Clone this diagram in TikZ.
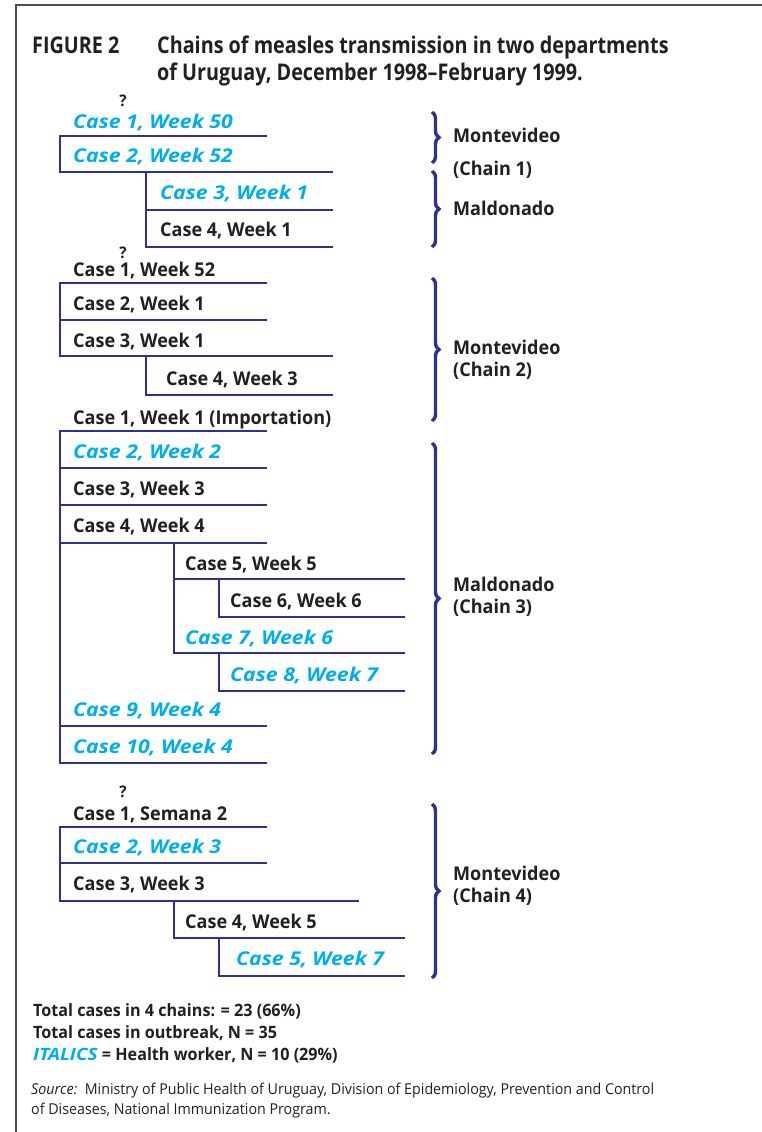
\documentclass[tikz,border=0pt]{standalone}
\usepackage{fontspec}
\setmainfont{Open Sans}[FakeStretch=0.95]
\newfontfamily\titlefont{Open Sans}[FakeStretch=0.86,Ligatures=TeX]
\newfontfamily\hwfont{Open Sans}[FakeStretch=1.12,Ligatures=TeX]
\usepackage{tikz}
\usetikzlibrary{decorations.pathreplacing}

\definecolor{navy}{HTML}{2E3192}
\definecolor{hwblue}{HTML}{00AEEF}
\definecolor{ink}{HTML}{231F20}

\begin{document}
\begin{tikzpicture}[x=1pt,y=-1pt,
    tree/.style={draw=navy,line width=2pt,line cap=rect},
    case/.style={anchor=base west,inner sep=0pt,text=ink,font=\fontsize{19}{22}\selectfont\bfseries},
    hw/.style={case,text=hwblue,font=\hwfont\fontsize{19}{22}\selectfont\bfseries\itshape},
    place/.style={anchor=base west,inner sep=0pt,text=ink,align=left,font=\fontsize{19}{22}\selectfont\bfseries},
    chainbrace/.style={draw=navy,line width=3.4pt,decorate,decoration={brace,amplitude=7pt}},
    unknown/.style={anchor=base,inner sep=0pt,text=ink,font=\fontsize{16}{18}\selectfont\bfseries}]
        \useasboundingbox (0,0) rectangle (762,1132);
        % frame
        \draw[ink!80,line width=1.5pt] (762,5) -- (16,5) -- (16,1132);
        % title (base of a multi-line node sits on its last line)
        \node[anchor=base west,inner sep=0pt,text=ink,font=\titlefont\fontsize{23}{28}\selectfont\bfseries] (fig) at (32,53) {FIGURE 2};
        \node[anchor=base west,inner sep=0pt,text=ink,align=left,font=\titlefont\fontsize{23}{28}\selectfont\bfseries] (title) at (157,81)
            {Chains of measles transmission in two departments\\of Uruguay, December 1998--February 1999.};

        % chain 1
        \node[unknown] (q1) at (123,106) {?};
        \node[hw] (c1a) at (73,128) {Case 1, Week 50};
        \node[hw] (c1b) at (73,162) {Case 2, Week 52};
        \node[hw] (c1c) at (160,199) {Case 3, Week 1};
        \node[case] (c1d) at (160,236) {Case 4, Week 1};
        \draw[tree] (266,136) -- (60,136) -- (60,172) -- (332,172);
        \draw[tree] (146,172) -- (146,247) -- (332,247);
        \draw[tree] (146,210) -- (332,210);

        % chain 2
        \node[unknown] (q2) at (123,258) {?};
        \node[case] (c2a) at (73,276) {Case 1, Week 52};
        \node[case] (c2b) at (73,310) {Case 2, Week 1};
        \node[case] (c2c) at (73,347) {Case 3, Week 1};
        \node[case] (c2d) at (166,385) {Case 4, Week 3};
        \draw[tree] (266,283) -- (60,283) -- (60,356) -- (332,356);
        \draw[tree] (60,320) -- (266,320);
        \draw[tree] (146,356) -- (146,395) -- (332,395);

        % chain 3
        \node[case] (c3a) at (73,424) {Case 1, Week 1 (Importation)};
        \node[hw] (c3b) at (73,458) {Case 2, Week 2};
        \node[case] (c3c) at (73,495) {Case 3, Week 3};
        \node[case] (c3d) at (73,532) {Case 4, Week 4};
        \node[case] (c3e) at (185,570) {Case 5, Week 5};
        \node[case] (c3f) at (230,607) {Case 6, Week 6};
        \node[hw] (c3g) at (185,644) {Case 7, Week 6};
        \node[hw] (c3h) at (230,681) {Case 8, Week 7};
        \node[hw] (c3i) at (73,716) {Case 9, Week 4};
        \node[hw] (c3j) at (73,753) {Case 10, Week 4};
        \draw[tree] (266,431) -- (60,431) -- (60,763) -- (266,763);
        \draw[tree] (60,468) -- (266,468);
        \draw[tree] (60,505) -- (266,505);
        \draw[tree] (60,543) -- (266,543);
        \draw[tree] (60,726) -- (266,726);
        \draw[tree] (174,543) -- (174,653) -- (404,653);
        \draw[tree] (174,579) -- (404,579);
        \draw[tree] (219,579) -- (219,617) -- (404,617);
        \draw[tree] (219,653) -- (219,691) -- (404,691);

        % chain 4
        \node[unknown] (q4) at (123,797) {?};
        \node[case] (c4a) at (73,820) {Case 1, Semana 2};
        \node[hw] (c4b) at (73,853) {Case 2, Week 3};
        \node[case] (c4c) at (73,890) {Case 3, Week 3};
        \node[case] (c4d) at (185,928) {Case 4, Week 5};
        \node[hw] (c4e) at (236,965) {Case 5, Week 7};
        \draw[tree] (266,827) -- (60,827) -- (60,901) -- (358,901);
        \draw[tree] (60,863) -- (266,863);
        \draw[tree] (174,901) -- (174,938) -- (404,938);
        \draw[tree] (219,938) -- (219,976) -- (404,976);

        % departments
        \draw[chainbrace] (432,112) -- (432,163);
        \draw[chainbrace] (432,171) -- (432,247);
        \draw[chainbrace] (432,278) -- (432,421);
        \draw[chainbrace] (432,443) -- (432,754);
        \draw[chainbrace] (432,804) -- (432,978);
        \node[place] (mvd1) at (453,142) {Montevideo};
        \node[place] (ch1) at (453,175) {(Chain 1)};
        \node[place] (mal1) at (453,215) {Maldonado};
        \node[place] (mvd2) at (453,376) {Montevideo\\(Chain 2)};
        \node[place] (mal3) at (453,613) {Maldonado\\(Chain 3)};
        \node[place] (mvd4) at (453,902) {Montevideo\\(Chain 4)};

        % totals and source
        \node[anchor=base west,inner sep=0pt,text=ink,align=left,font=\fontsize{17}{22}\selectfont\bfseries] (totals) at (33,1060)
            {Total cases in 4 chains: = 23 (66\%)\\Total cases in outbreak, N = 35\\{\color{hwblue}\hwfont\bfseries\itshape ITALICS} = Health worker, N = 10 (29\%)};
        \node[anchor=base west,inner sep=0pt,text=ink,align=left,font=\fontsize{15}{20}\selectfont] (source) at (31,1114)
            {\textit{Source:}\ \ Ministry of Public Health of Uruguay, Division of Epidemiology, Prevention and Control\\of Diseases, National Immunization Program.};
\end{tikzpicture}
\end{document}
